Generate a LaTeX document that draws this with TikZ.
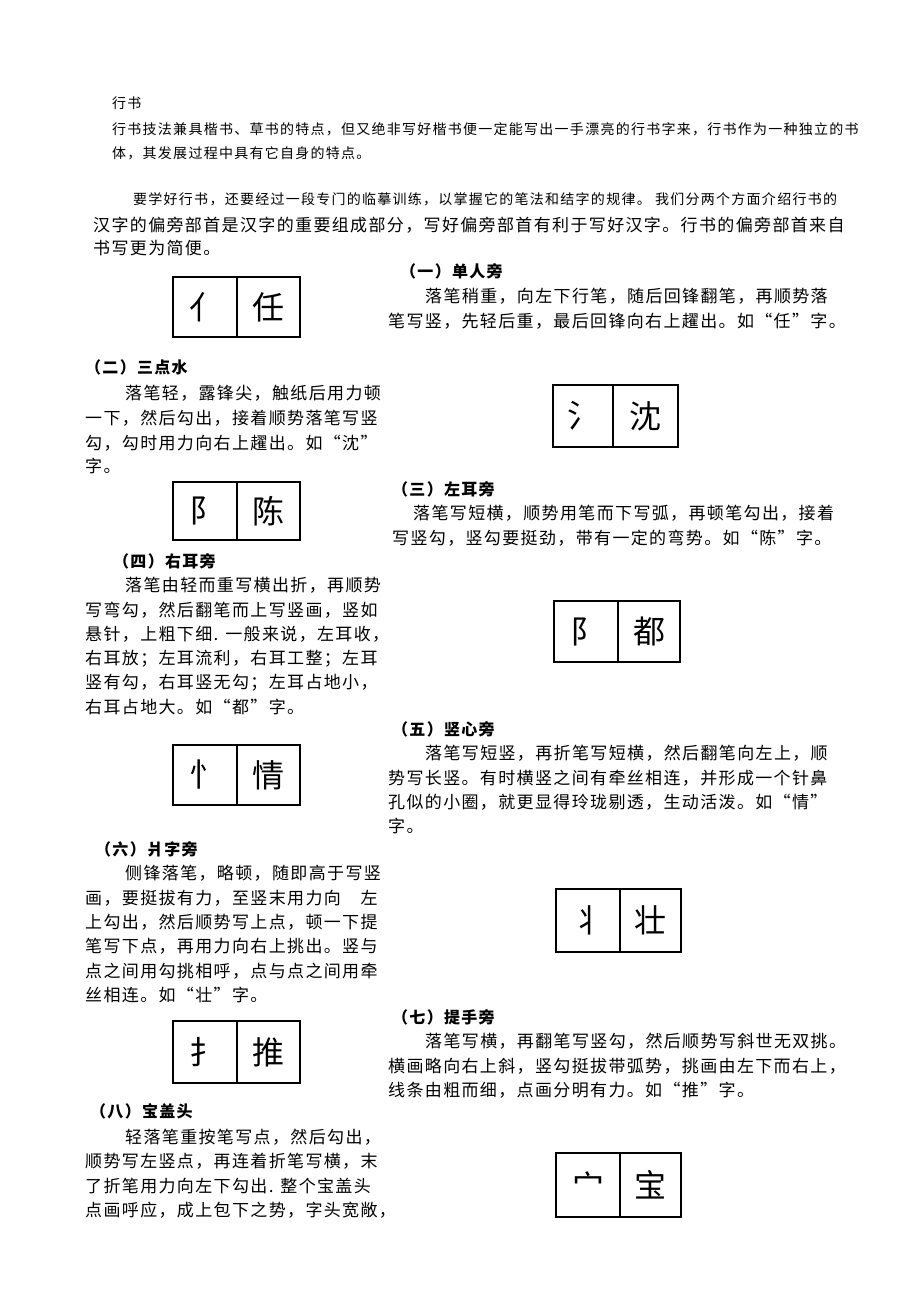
\documentclass[tikz,border=0pt]{standalone}
\usepackage{fontspec}
\setmainfont{Noto Sans CJK SC}[LetterSpace=8]
\newfontfamily\smallf{Noto Sans CJK SC}[LetterSpace=9]
\newfontfamily\boxf{Noto Sans CJK SC}
\begin{document}
\begin{tikzpicture}[x=1pt,y=-1pt,
  body/.style={anchor=west,inner sep=0,font=\fontsize{17}{17}\selectfont},
  sm/.style={anchor=west,inner sep=0,font=\smallf\fontsize{14}{14}\selectfont},
  head/.style={anchor=west,inner sep=0,font=\fontsize{16}{16}\selectfont\bfseries},
  ch/.style={inner sep=0,font=\boxf\fontsize{32}{32}\selectfont}]
\useasboundingbox[fill=white] (0,0) rectangle (920,1302);
\newcommand\bx[7]{%
  \draw[line width=1.2pt] (#1,#2) rectangle (#4,#5);
  \draw[line width=2.4pt] (#1,#2) -- (#1,#5) -- (#4,#5);
  \draw[line width=1.2pt] (#3,#2) -- (#3,#5);
  \node[ch] at ({(#1+#3)/2},{(#2+#5)/2}) {#6};
  \node[ch] at ({(#3+#4)/2},{(#2+#5)/2}) {#7};}
\node[sm] (t0) at (112,103) {行书};
\node[sm] (t1) at (112,129) {行书技法兼具楷书、草书的特点，但又绝非写好楷书便一定能写出一手漂亮的行书字来，行书作为一种独立的书};
\node[sm] (t2) at (112,153) {体，其发展过程中具有它自身的特点。};
\node[sm] (t3) at (133,199) {要学好行书，还要经过一段专门的临摹训练，以掌握它的笔法和结字的规律。 我们分两个方面介绍行书的};
\node[body] (t4) at (93,225) {汉字的偏旁部首是汉字的重要组成部分，写好偏旁部首有利于写好汉字。行书的偏旁部首来自};
\node[body] (t5) at (93,248) {书写更为简便。};
\bx{173}{277}{237}{300}{337}{亻}{任}
\node[head] (h1) at (400,271) {（一）单人旁};
\node[body] at (425,296) {落笔稍重，向左下行笔，随后回锋翻笔，再顺势落};
\node[body] at (388,321) {笔写竖，先轻后重，最后回锋向右上趯出。如“任”字。};
\node[head] (h2) at (85,367) {（二）三点水};
\node[body] at (125,393) {落笔轻，露锋尖，触纸后用力顿};
\node[body] at (85,418) {一下，然后勾出，接着顺势落笔写竖};
\node[body] at (85,443) {勾，勾时用力向右上趯出。如“沈”};
\node[body] at (85,466) {字。};
\bx{553}{385}{613}{678}{447}{氵}{沈}
\bx{173}{482}{237}{300}{540}{阝}{陈}
\node[head] (h3) at (392,489) {（三）左耳旁};
\node[body] at (413,513) {落笔写短横，顺势用笔而下写弧，再顿笔勾出，接着};
\node[body] at (392,538) {写竖勾，竖勾要挺劲，带有一定的弯势。如“陈”字。};
\node[head] (h4) at (113,561) {（四）右耳旁};
\node[body] at (125,585) {落笔由轻而重写横出折，再顺势};
\node[body] at (85,610) {写弯勾，然后翻笔而上写竖画，竖如};
\node[body] at (85,634) {悬针，上粗下细. 一般来说，左耳收，};
\node[body] at (85,659) {右耳放；左耳流利，右耳工整；左耳};
\node[body] at (85,683) {竖有勾，右耳竖无勾；左耳占地小，};
\node[body] at (85,707) {右耳占地大。如“都”字。};
\bx{554}{601}{618}{680}{662}{阝}{都}
\bx{173}{745}{237}{300}{805}{忄}{情}
\node[head] (h5) at (392,729) {（五）竖心旁};
\node[body] at (425,753) {落笔写短竖，再折笔写短横，然后翻笔向左上，顺};
\node[body] at (388,778) {势写长竖。有时横竖之间有牵丝相连，并形成一个针鼻};
\node[body] at (388,802) {孔似的小圈，就更显得玲珑剔透，生动活泼。如“情”};
\node[body] at (388,826) {字。};
\node[head] (h6) at (95,849) {（六）爿字旁};
\node[body] at (125,873) {侧锋落笔，略顿，随即高于写竖};
\node[body] at (85,898) {画，要挺拔有力，至竖末用力向　左};
\node[body] at (85,922) {上勾出，然后顺势写上点，顿一下提};
\node[body] at (85,946) {笔写下点，再用力向右上挑出。竖与};
\node[body] at (85,971) {点之间用勾挑相呼，点与点之间用牵};
\node[body] at (85,995) {丝相连。如“壮”字。};
\bx{556}{889}{620}{681}{952}{丬}{壮}
\bx{173}{1021}{237}{300}{1083}{扌}{推}
\node[head] (h7) at (392,1017) {（七）提手旁};
\node[body] at (425,1041) {落笔写横，再翻笔写竖勾，然后顺势写斜世无双挑。};
\node[body] at (388,1066) {横画略向右上斜，竖勾挺拔带弧势，挑画由左下而右上，};
\node[body] at (388,1090) {线条由粗而细，点画分明有力。如“推”字。};
\node[head] (h8) at (90,1111) {（八）宝盖头};
\node[body] at (125,1137) {轻落笔重按笔写点，然后勾出，};
\node[body] at (85,1161) {顺势写左竖点，再连着折笔写横，末};
\node[body] at (85,1186) {了折笔用力向左下勾出. 整个宝盖头};
\node[body] at (85,1210) {点画呼应，成上包下之势，字头宽敞，};
\bx{556}{1153}{620}{681}{1217}{宀}{宝}
\end{tikzpicture}
\end{document}
